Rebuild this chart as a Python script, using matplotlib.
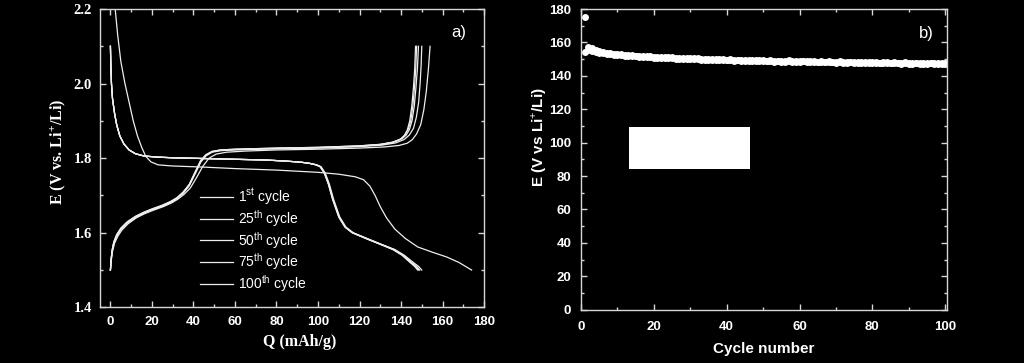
import matplotlib
matplotlib.use("Agg")
import matplotlib.pyplot as plt
from matplotlib.ticker import MultipleLocator
from matplotlib.patches import Rectangle

# ---------------- data: panel a) charge / discharge curves ----------------
cycle_labels = [r"1$^{\rm st}$ cycle", r"25$^{\rm th}$ cycle", r"50$^{\rm th}$ cycle",
                r"75$^{\rm th}$ cycle", r"100$^{\rm th}$ cycle"]

# charge curves (Q in mAh/g, E in V)
chg_q_1 = [0, 0.4, 1, 2, 3.5, 5.5, 8.5, 12.5, 16.5, 20.5, 25.5, 29.5, 32.5, 35.5, 38.5, 41.5, 44.5, 47.5, 51, 56, 65, 80, 100, 120, 132, 139, 143, 145.5, 147.5, 149.5, 151, 152.2, 153.2, 154]
chg_e_1 = [1.50, 1.525, 1.55, 1.572, 1.59, 1.607, 1.624, 1.64, 1.651, 1.66, 1.67, 1.68, 1.69, 1.703, 1.72, 1.748, 1.778, 1.80, 1.811, 1.816, 1.819, 1.822, 1.824, 1.827, 1.83, 1.834, 1.84, 1.85, 1.865, 1.89, 1.93, 1.98, 2.04, 2.10]
chg_q_25 = [0, 0.3, 0.8, 1.6, 3, 5, 8, 12, 16, 20, 25, 29, 32, 35, 38, 41, 43.5, 46, 49, 53, 60, 80, 100, 120, 131, 137.5, 141.5, 144, 146, 147.4, 148.5, 149.2, 149.7, 150]
chg_e_25 = [1.50, 1.524, 1.548, 1.57, 1.59, 1.608, 1.625, 1.64, 1.652, 1.661, 1.671, 1.681, 1.691, 1.705, 1.726, 1.76, 1.789, 1.806, 1.816, 1.82, 1.822, 1.825, 1.827, 1.831, 1.835, 1.841, 1.85, 1.862, 1.88, 1.91, 1.95, 2.0, 2.05, 2.10]
chg_q_50 = [0, 0.3, 0.8, 1.6, 3, 5, 8, 12, 16, 20, 25, 29, 32, 35, 38, 41, 43.5, 46, 49, 53, 60, 80, 100, 120, 130, 136.5, 140.5, 142.5, 144, 145.3, 146.4, 147.2, 147.9, 148.4]
chg_e_50 = [1.50, 1.526, 1.552, 1.574, 1.594, 1.612, 1.629, 1.644, 1.655, 1.664, 1.674, 1.684, 1.694, 1.709, 1.73, 1.765, 1.794, 1.809, 1.818, 1.822, 1.824, 1.827, 1.829, 1.833, 1.837, 1.843, 1.852, 1.862, 1.876, 1.90, 1.94, 1.99, 2.04, 2.10]
chg_q_75 = [0, 0.3, 0.8, 1.6, 3, 5, 8, 12, 16, 20, 25, 29, 32, 35, 38, 41, 43.5, 46, 49, 53, 60, 80, 100, 120, 130, 136, 140, 142, 143.5, 144.7, 145.7, 146.5, 147.1, 147.5]
chg_e_75 = [1.50, 1.527, 1.553, 1.575, 1.595, 1.612, 1.628, 1.643, 1.654, 1.663, 1.673, 1.683, 1.693, 1.708, 1.729, 1.764, 1.793, 1.809, 1.818, 1.822, 1.824, 1.827, 1.829, 1.833, 1.837, 1.843, 1.852, 1.863, 1.878, 1.90, 1.94, 1.99, 2.04, 2.10]
chg_q_100 = [0, 0.3, 0.8, 1.6, 3, 5, 8, 12, 16, 20, 25, 29, 32, 35, 38, 41, 43.5, 46, 49, 53, 60, 80, 100, 120, 130, 136, 139.5, 141.5, 143, 144.2, 145.2, 146, 146.6, 147]
chg_e_100 = [1.50, 1.525, 1.55, 1.572, 1.592, 1.61, 1.627, 1.642, 1.653, 1.662, 1.672, 1.682, 1.692, 1.707, 1.728, 1.763, 1.792, 1.808, 1.817, 1.821, 1.823, 1.826, 1.828, 1.832, 1.836, 1.842, 1.85, 1.86, 1.875, 1.90, 1.94, 1.99, 2.04, 2.10]

# discharge curves
dis_q_1 = [2.3, 3.5, 5, 7, 9, 11, 13, 15, 17, 19.5, 23, 30, 45, 60, 80, 100, 110, 118, 122, 125, 127.5, 130, 133, 137, 142, 148, 155, 162, 168, 174]
dis_e_1 = [2.2, 2.13, 2.06, 2.0, 1.95, 1.90, 1.86, 1.83, 1.805, 1.79, 1.782, 1.779, 1.776, 1.772, 1.768, 1.762, 1.757, 1.75, 1.742, 1.725, 1.70, 1.67, 1.64, 1.61, 1.585, 1.562, 1.548, 1.535, 1.52, 1.50]
dis_q_25 = [0, 0.2, 0.5, 1, 2, 3, 4.5, 6.5, 9, 12, 16, 22, 30, 45, 60, 75, 85, 92, 96, 99.5, 101.5, 103.5, 105.5, 107.5, 110.5, 113.5, 117, 123.5, 131.5, 137, 141.5, 146, 148.4, 150]
dis_e_25 = [2.1, 2.05, 2.0, 1.96, 1.92, 1.89, 1.86, 1.838, 1.822, 1.812, 1.806, 1.803, 1.801, 1.799, 1.797, 1.795, 1.792, 1.789, 1.786, 1.782, 1.777, 1.76, 1.73, 1.69, 1.642, 1.615, 1.60, 1.585, 1.567, 1.555, 1.54, 1.52, 1.51, 1.50]
dis_q_50 = [0, 0.2, 0.5, 1, 2, 3, 4.5, 6.5, 9, 12, 16, 22, 30, 45, 60, 75, 85, 92, 96, 99.2, 101.2, 103.2, 105.2, 107.2, 110.2, 113.2, 116.7, 123.2, 131.2, 136.6, 141, 145.2, 147.5, 149]
dis_e_50 = [2.1, 2.05, 2.0, 1.96, 1.92, 1.89, 1.86, 1.838, 1.822, 1.812, 1.806, 1.803, 1.801, 1.799, 1.797, 1.795, 1.792, 1.789, 1.786, 1.782, 1.777, 1.76, 1.73, 1.69, 1.642, 1.615, 1.60, 1.585, 1.567, 1.555, 1.54, 1.52, 1.51, 1.50]
dis_q_75 = [0, 0.2, 0.5, 1, 2, 3, 4.5, 6.5, 9, 12, 16, 22, 30, 45, 60, 75, 85, 92, 96, 99.1, 101.1, 103.1, 105.1, 107.1, 110.1, 113.1, 116.6, 123, 131, 136.3, 140.7, 144.8, 147, 148.5]
dis_e_75 = [2.1, 2.05, 2.0, 1.96, 1.92, 1.89, 1.86, 1.838, 1.822, 1.812, 1.806, 1.803, 1.801, 1.799, 1.797, 1.795, 1.792, 1.789, 1.786, 1.782, 1.777, 1.76, 1.73, 1.69, 1.642, 1.615, 1.60, 1.585, 1.567, 1.555, 1.54, 1.52, 1.51, 1.50]
dis_q_100 = [0, 0.2, 0.5, 1, 2, 3, 4.5, 6.5, 9, 12, 16, 22, 30, 45, 60, 75, 85, 92, 96, 99, 101, 103, 105, 107, 110, 113, 116.4, 122.8, 130.8, 136, 140.4, 144.4, 146.5, 148]
dis_e_100 = [2.1, 2.05, 2.0, 1.96, 1.92, 1.89, 1.86, 1.838, 1.822, 1.812, 1.806, 1.803, 1.801, 1.799, 1.797, 1.795, 1.792, 1.789, 1.786, 1.782, 1.777, 1.76, 1.73, 1.69, 1.642, 1.615, 1.60, 1.585, 1.567, 1.555, 1.54, 1.52, 1.51, 1.50]

charge_curves = [(chg_q_1, chg_e_1), (chg_q_25, chg_e_25), (chg_q_50, chg_e_50),
                 (chg_q_75, chg_e_75), (chg_q_100, chg_e_100)]
discharge_curves = [(dis_q_1, dis_e_1), (dis_q_25, dis_e_25), (dis_q_50, dis_e_50),
                    (dis_q_75, dis_e_75), (dis_q_100, dis_e_100)]

# ---------------- data: panel b) capacity vs cycle ----------------
cycles = list(range(1, 101))
cap_discharge = [175.0, 157.2, 156.5, 155.3, 154.6, 154.1, 153.8, 153.5, 153.3, 153.0,
                 152.9, 152.7, 152.4, 152.3, 152.1, 152.0, 151.9, 151.6, 151.7, 151.5,
                 151.4, 151.3, 151.1, 151.2, 151.0, 150.8, 150.9, 150.7, 150.6, 150.5,
                 150.6, 150.4, 150.2, 150.3, 150.1, 150.0, 150.2, 149.9, 149.8, 149.7,
                 150.0, 149.6, 149.7, 149.5, 149.4, 149.6, 149.3, 149.4, 149.2, 149.3,
                 149.1, 149.2, 149.0, 149.1, 148.9, 149.0, 149.2, 148.8, 148.9, 148.7,
                 149.1, 148.8, 148.6, 148.7, 148.5, 148.6, 148.4, 148.7, 148.5, 148.3,
                 148.6, 148.4, 148.2, 148.5, 148.3, 148.1, 148.4, 148.2, 148.0, 148.3,
                 148.1, 147.9, 148.2, 148.0, 147.8, 148.1, 147.9, 147.7, 148.0, 147.8,
                 147.6, 147.9, 147.7, 147.8, 147.6, 147.9, 147.7, 147.5, 147.8, 147.6]
cap_charge = [154.5, 155.2, 155.0, 154.3, 153.9, 153.5, 153.2, 152.9, 152.7, 152.5,
              152.3, 152.1, 151.9, 151.8, 151.6, 151.5, 151.4, 151.2, 151.1, 150.9,
              150.9, 150.7, 150.6, 150.6, 150.4, 150.3, 150.3, 150.1, 150.0, 150.0,
              149.9, 149.8, 149.7, 149.7, 149.6, 149.5, 149.6, 149.4, 149.3, 149.3,
              149.4, 149.1, 149.2, 149.0, 149.0, 149.1, 148.8, 148.9, 148.7, 148.8,
              148.7, 148.7, 148.5, 148.6, 148.4, 148.5, 148.7, 148.3, 148.4, 148.3,
              148.6, 148.3, 148.2, 148.2, 148.0, 148.1, 148.0, 148.2, 148.0, 147.9,
              148.1, 147.9, 147.8, 148.0, 147.8, 147.7, 147.9, 147.7, 147.6, 147.8,
              147.6, 147.5, 147.7, 147.5, 147.4, 147.6, 147.4, 147.3, 147.5, 147.3,
              147.2, 147.4, 147.2, 147.3, 147.1, 147.4, 147.2, 147.0, 147.3, 147.1]

# ---------------- styling ----------------
BG = "black"
FG = "white"
LINE = "#eeeeee"
SPINE = "#d6d6d6"
SERIF = ["Liberation Serif", "DejaVu Serif"]
SANS = ["Liberation Sans", "DejaVu Sans"]

plt.rcParams["mathtext.fontset"] = "custom"
plt.rcParams["mathtext.rm"] = "Liberation Sans"

fig = plt.figure(figsize=(10.24, 3.63), dpi=100, facecolor=BG)
axa = fig.add_axes([0.0977, 0.1534, 0.375, 0.8218])
axb = fig.add_axes([0.5674, 0.1468, 0.3574, 0.8284])


def style_axes(ax):
    ax.set_facecolor(BG)
    for s in ax.spines.values():
        s.set_color(SPINE)
        s.set_linewidth(1.0)
    ax.tick_params(which="both", direction="in", top=True, right=True,
                   color=SPINE, labelcolor=FG, width=1.0)
    ax.tick_params(which="major", length=4.3)
    ax.tick_params(which="minor", length=2.2)


# ----- panel a -----
style_axes(axa)
for (q, e), lab in zip(discharge_curves, cycle_labels):
    axa.plot(q, e, color=LINE, lw=0.9)
handles = []
for (q, e), lab in zip(charge_curves, cycle_labels):
    h, = axa.plot(q, e, color=LINE, lw=0.9, label=lab)
    handles.append(h)

axa.set_xlim(-5, 180)
axa.set_ylim(1.4, 2.2)
axa.xaxis.set_major_locator(MultipleLocator(20))
axa.xaxis.set_minor_locator(MultipleLocator(10))
axa.yaxis.set_major_locator(MultipleLocator(0.2))
axa.yaxis.set_minor_locator(MultipleLocator(0.1))
axa.tick_params(axis="x", pad=6)
axa.tick_params(axis="y", pad=6)
for t in axa.get_xticklabels():
    t.set_fontfamily(SANS)
    t.set_fontweight("bold")
    t.set_fontsize(9.5)
for t in axa.get_yticklabels():
    t.set_fontfamily(SERIF)
    t.set_fontweight("bold")
    t.set_fontsize(10.5)

axa.set_xlabel("Q (mAh/g)", family=SERIF, fontweight="bold", fontsize=11.5,
               color=FG, va="center")
axa.xaxis.set_label_coords(0.52, -0.115)
axa.set_ylabel(r"E (V vs. Li$^{+}$/Li)", family=SERIF, fontweight="bold",
               fontsize=11.5, color=FG, va="center")
axa.yaxis.set_label_coords(-0.108, 0.52)

leg = axa.legend(handles=handles, loc="upper left", bbox_to_anchor=(0.26, 0.405),
                 frameon=False, prop={"family": SANS, "size": 10},
                 handlelength=2.4, handletextpad=0.35, labelspacing=0.06,
                 borderpad=0, borderaxespad=0)
for t in leg.get_texts():
    t.set_color(FG)

axa.text(0.935, 0.92, "a)", transform=axa.transAxes, color=FG, fontsize=12,
         family=SANS, ha="center", va="center")

# ----- panel b -----
style_axes(axb)
axb.plot(cycles, cap_charge, "o", color=FG, ms=5, mec=FG, mew=0)
axb.plot(cycles, cap_discharge, "o", color=FG, ms=5, mec=FG, mew=0)
axb.set_xlim(0, 100.5)
axb.set_ylim(0, 180)
axb.xaxis.set_major_locator(MultipleLocator(20))
axb.xaxis.set_minor_locator(MultipleLocator(10))
axb.yaxis.set_major_locator(MultipleLocator(20))
axb.yaxis.set_minor_locator(MultipleLocator(10))
axb.tick_params(axis="x", pad=8)
axb.tick_params(axis="y", pad=7)
for t in axb.get_xticklabels() + axb.get_yticklabels():
    t.set_fontfamily(SANS)
    t.set_fontweight("bold")
    t.set_fontsize(9.5)

axb.set_xlabel("Cycle number", family=SANS, fontweight="bold", fontsize=11,
               color=FG, va="center")
axb.xaxis.set_label_coords(0.5, -0.132)
axb.set_ylabel(r"E (V vs Li$^{+}$/Li)", family=SANS, fontweight="bold",
               fontsize=11, color=FG, va="center")
axb.yaxis.set_label_coords(-0.1156, 0.573)

axb.add_patch(Rectangle((13.2, 84.2), 33.1, 25.3, facecolor="white",
                        edgecolor="none", zorder=3))

axb.text(0.943, 0.92, "b)", transform=axb.transAxes, color=FG, fontsize=12,
         family=SANS, ha="center", va="center")

fig.savefig("out.png", dpi=100, facecolor=BG)
